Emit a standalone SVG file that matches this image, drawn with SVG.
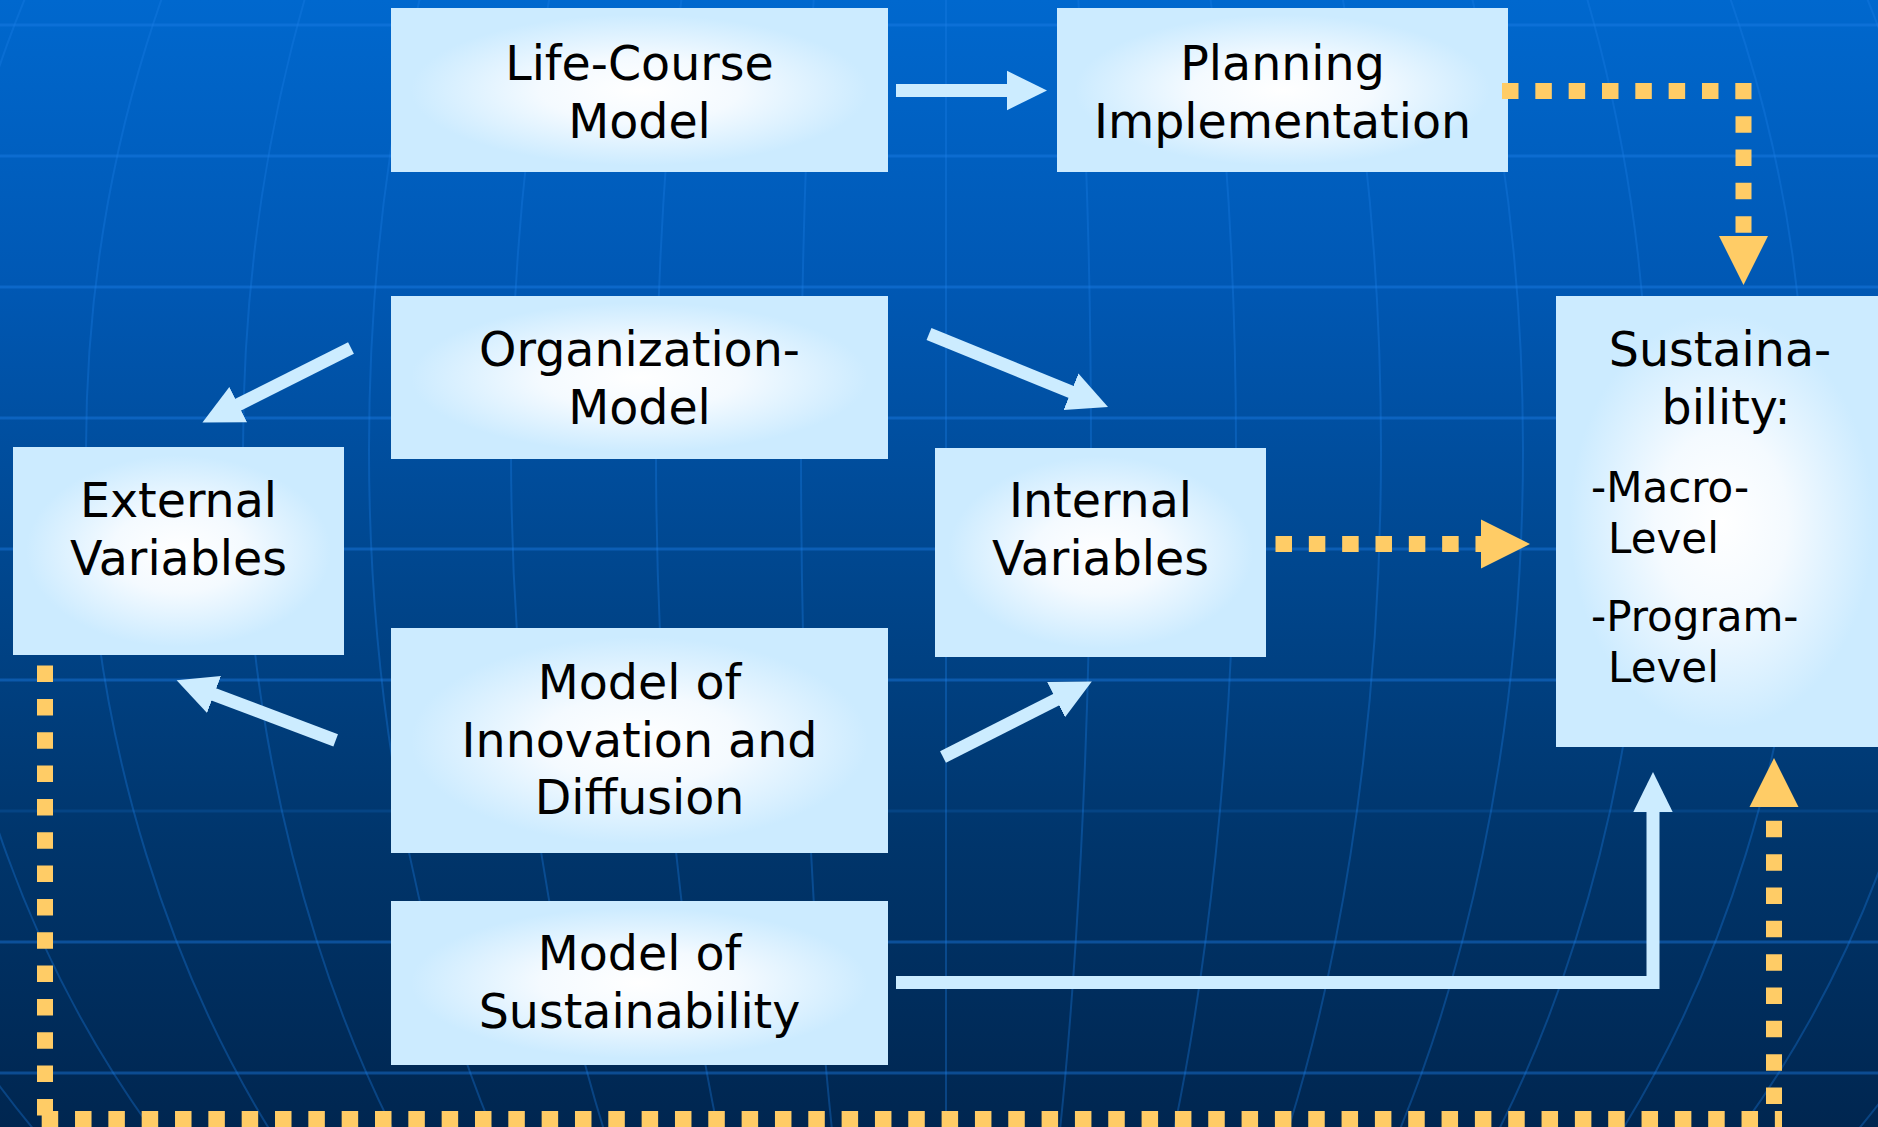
<svg xmlns="http://www.w3.org/2000/svg" width="1878" height="1127" viewBox="0 0 1878 1127">
<defs>
  <linearGradient id="bg" x1="0" y1="0" x2="0" y2="1">
    <stop offset="0" stop-color="#0068CE"/>
    <stop offset="0.25" stop-color="#0058B4"/>
    <stop offset="0.5" stop-color="#00478F"/>
    <stop offset="0.75" stop-color="#00356B"/>
    <stop offset="1" stop-color="#002650"/>
  </linearGradient>
  <radialGradient id="boxfill" cx="0.5" cy="0.5" r="0.5">
    <stop offset="0" stop-color="#FFFFFF"/>
    <stop offset="0.4" stop-color="#F4FAFF"/>
    <stop offset="0.92" stop-color="#CCEBFF"/>
  </radialGradient>
  <marker id="headLight" markerUnits="userSpaceOnUse" viewBox="0 -25 50 50" markerWidth="50" markerHeight="50" refX="1" refY="0" orient="auto">
    <path d="M0,-19.7 L40,0 L0,19.7 Z" fill="#CCECFF"/>
  </marker>
  <marker id="headGold" markerUnits="userSpaceOnUse" viewBox="0 -30 60 60" markerWidth="60" markerHeight="60" refX="1" refY="0" orient="auto">
    <path d="M0,-24.5 L49,0 L0,24.5 Z" fill="#FFCC66"/>
  </marker>
  <style>
    .grid { fill: none; stroke: #1C7EE6; }
    .hline { stroke-width: 3; stroke-opacity: 0.42; }
    .faint { stroke-opacity: 0.18; }
    .mer { stroke-width: 2; stroke-opacity: 0.33; }
    .box { fill: url(#boxfill); }
    .t { font-family: "DejaVu Sans", Verdana, sans-serif; font-size: 47.5px; fill: #000; text-anchor: middle; }
    .s { font-family: "DejaVu Sans", Verdana, sans-serif; font-size: 42px; fill: #000; text-anchor: start; }
    .light { fill: none; stroke: #CCECFF; stroke-width: 13; stroke-linejoin: miter; marker-end: url(#headLight); }
    .gold { fill: none; stroke: #FFCC66; stroke-width: 16; stroke-dasharray: 16.5 16.83; stroke-linejoin: miter; marker-end: url(#headGold); }
  </style>
</defs>

<g id="background">
  <rect x="0" y="0" width="1878" height="1127" fill="url(#bg)"/>
  <g class="grid hline">
    <line x1="0" y1="25" x2="1878" y2="25"/>
    <line x1="0" y1="156" x2="1878" y2="156"/>
    <line x1="0" y1="287" x2="1878" y2="287"/>
    <line x1="0" y1="418" x2="1878" y2="418"/>
    <line x1="0" y1="549" x2="1878" y2="549"/>
    <line x1="0" y1="680" x2="1878" y2="680"/>
    <line class="faint" x1="0" y1="811" x2="1878" y2="811"/>
    <line x1="0" y1="942" x2="1878" y2="942"/>
    <line x1="0" y1="1073" x2="1878" y2="1073"/>
  </g>
  <g class="grid mer">
    <line x1="946" y1="0" x2="946" y2="1127"/>
    <ellipse cx="946" cy="450" rx="145" ry="1100"/>
    <ellipse cx="946" cy="450" rx="290" ry="1100"/>
    <ellipse cx="946" cy="450" rx="435" ry="1100"/>
    <ellipse cx="946" cy="450" rx="577" ry="1100"/>
    <ellipse cx="946" cy="450" rx="703" ry="1100"/>
    <ellipse cx="946" cy="450" rx="860" ry="1100"/>
    <ellipse cx="946" cy="450" rx="1010" ry="1100"/>
    <ellipse cx="946" cy="450" rx="1160" ry="1100"/>
  </g>
</g>

<g id="node-life-course">
  <rect class="box" x="391" y="8" width="497" height="164"/>
  <text class="t" x="639.5" y="80">Life-Course</text>
  <text class="t" x="639.5" y="138">Model</text>
</g>
<g id="node-planning">
  <rect class="box" x="1057" y="8" width="451" height="164"/>
  <text class="t" x="1282.5" y="80">Planning</text>
  <text class="t" x="1282.5" y="138">Implementation</text>
</g>
<g id="node-organization">
  <rect class="box" x="391" y="296" width="497" height="163"/>
  <text class="t" x="639.5" y="366">Organization-</text>
  <text class="t" x="639.5" y="424">Model</text>
</g>
<g id="node-external">
  <rect class="box" x="13" y="447" width="331" height="208"/>
  <text class="t" x="178.5" y="517">External</text>
  <text class="t" x="178.5" y="575">Variables</text>
</g>
<g id="node-internal">
  <rect class="box" x="935" y="448" width="331" height="209"/>
  <text class="t" x="1100.5" y="517">Internal</text>
  <text class="t" x="1100.5" y="575">Variables</text>
</g>
<g id="node-innovation">
  <rect class="box" x="391" y="628" width="497" height="225"/>
  <text class="t" x="639.5" y="699">Model of</text>
  <text class="t" x="639.5" y="757">Innovation and</text>
  <text class="t" x="639.5" y="814">Diffusion</text>
</g>
<g id="node-model-sustainability">
  <rect class="box" x="391" y="901" width="497" height="164"/>
  <text class="t" x="639.5" y="970">Model of</text>
  <text class="t" x="639.5" y="1028">Sustainability</text>
</g>
<g id="node-sustainability">
  <rect class="box" x="1556" y="296" width="331" height="451"/>
  <text class="t" x="1720" y="366">Sustaina-</text>
  <text class="t" x="1726" y="424">bility:</text>
  <text class="s" x="1591" y="502">-Macro-</text>
  <text class="s" x="1608" y="553">Level</text>
  <text class="s" x="1591" y="631">-Program-</text>
  <text class="s" x="1608" y="682">Level</text>
</g>

<g id="connectors">
  <path class="light" d="M896,90.5 H1008"/>
  <path class="light" d="M351,348 L237.3,405.1"/>
  <path class="light" d="M929,334 L1071.9,392.2"/>
  <path class="light" d="M335.7,740.4 L213.1,694.1"/>
  <path class="light" d="M943,757 L1057,699.2"/>
  <path class="light" d="M896,982.5 H1653 V811"/>
  <path class="gold" d="M1502,91 H1743.5 V237"/>
  <path class="gold" d="M1275.5,544 H1482"/>
  <path class="gold" d="M45,665.6 V1115.4 M41.7,1119 H1782 M1774,1104 V806"/>
</g>
</svg>
